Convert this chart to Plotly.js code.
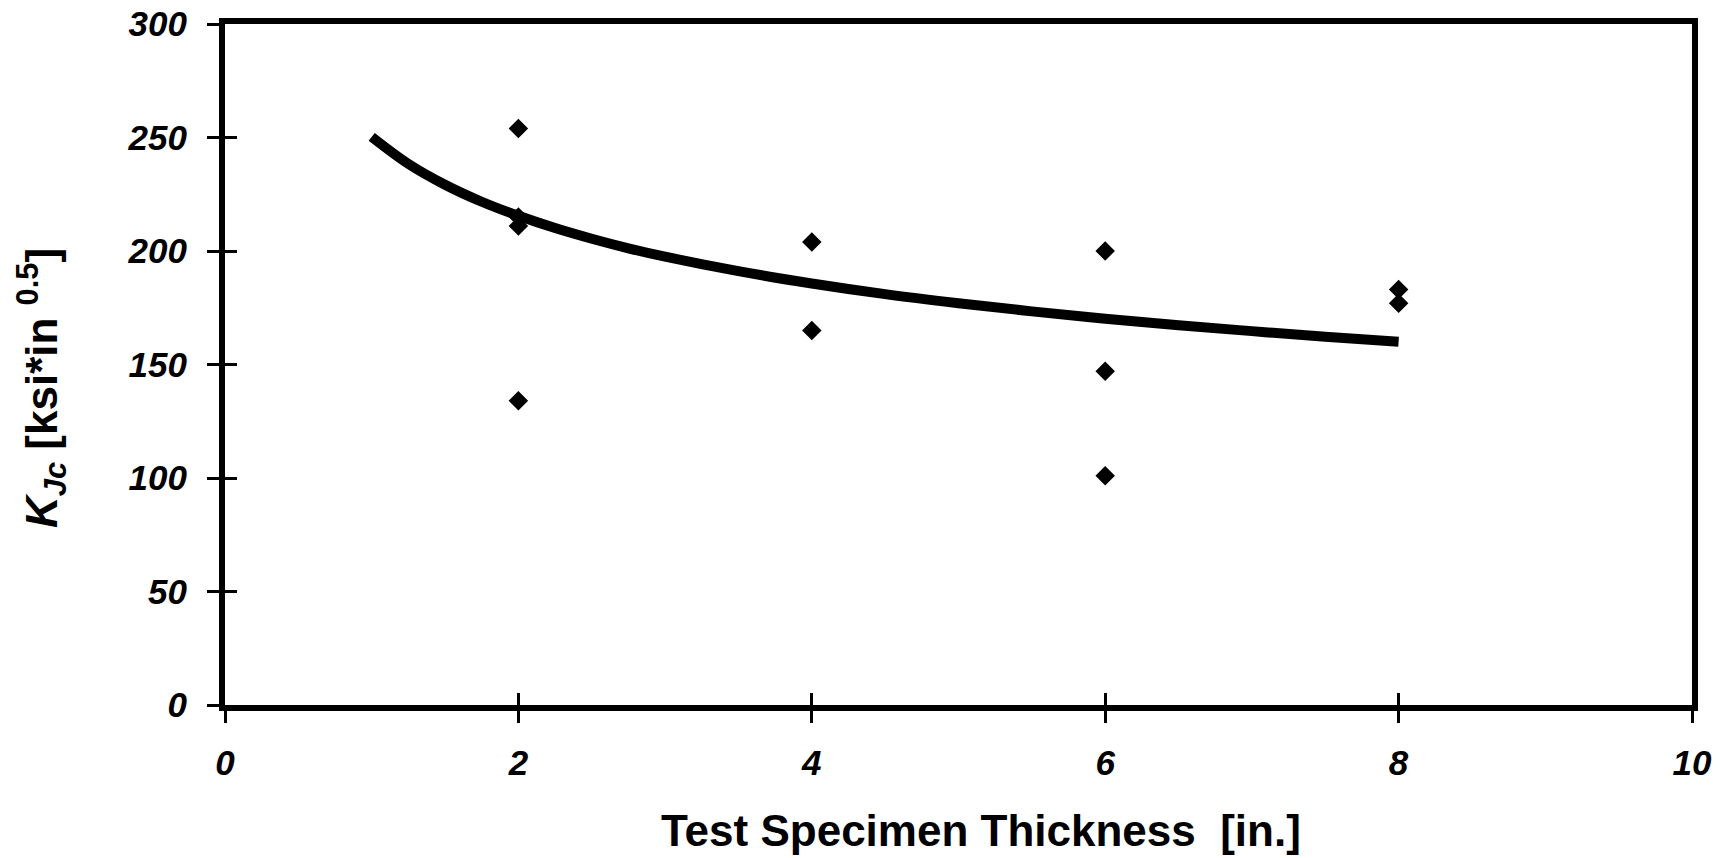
<!DOCTYPE html>
<html>
<head>
<meta charset="utf-8">
<script src="https://cdn.plot.ly/plotly-3.0.1.min.js"></script>
<style>html,body{margin:0;padding:0;background:#fff;}#chart{width:1722px;height:858px;}</style>
</head>
<body>
<div id="chart"></div>
<script>
// Measured specimens
const specimenThickness = [2, 2, 2, 2, 4, 4, 6, 6, 6, 8, 8];
const specimenKJc = [254, 215, 211, 134, 204, 165, 200, 147, 101, 183, 177];

// Fitted curve
const curveThickness = [1, 1.25, 1.5, 1.75, 2, 2.25, 2.5, 2.75, 3, 3.5, 4, 4.5, 5, 5.5, 6, 6.5, 7, 7.5, 8];
const curveKJc = [250.3, 238.4, 229.2, 221.7, 215.5, 210.1, 205.4, 201.2, 197.5, 191.1, 185.7, 181.0,
                  177.0, 173.4, 170.2, 167.3, 164.7, 162.2, 160.0];

const xTicks = [0, 2, 4, 6, 8, 10];
const yTicks = [0, 50, 100, 150, 200, 250, 300];

const tickFont = {family: 'Liberation Sans, Arial, sans-serif', size: 35, color: '#000', weight: 'bold', style: 'italic'};

const traces = [
  {x: curveThickness, y: curveKJc, type: 'scatter', mode: 'lines',
   line: {color: '#000', width: 10, shape: 'spline', smoothing: 1}, hoverinfo: 'skip', showlegend: false},
  {x: specimenThickness, y: specimenKJc, type: 'scatter', mode: 'markers',
   marker: {symbol: 'diamond', size: 15, color: '#000'}, showlegend: false},
  {x: [xTicks[0]], y: [yTicks[0]], xaxis: 'x2', yaxis: 'y2', type: 'scatter', mode: 'markers',
   marker: {opacity: 0}, hoverinfo: 'skip', showlegend: false}
];

const layout = {
  width: 1722, height: 858,
  margin: {l: 225, r: 30, t: 24, b: 153},
  paper_bgcolor: '#fff', plot_bgcolor: '#fff',
  showlegend: false,
  xaxis: {range: [0, 10], tickvals: xTicks, ticktext: xTicks.map(String),
    showgrid: false, zeroline: false, showline: true, mirror: true, linecolor: '#000', linewidth: 6,
    ticks: 'outside', ticklen: 12, tickwidth: 3, tickcolor: '#000',
    tickfont: tickFont, ticklabelstandoff: 10},
  yaxis: {range: [0, 300], tickvals: yTicks, ticktext: yTicks.map(String),
    showgrid: false, zeroline: false, showline: true, mirror: true, linecolor: '#000', linewidth: 6,
    ticks: 'outside', ticklen: 12, tickwidth: 3, tickcolor: '#000',
    tickfont: tickFont, ticklabelstandoff: 13},
  xaxis2: {range: [0, 10], tickvals: xTicks, overlaying: 'x', showticklabels: false,
    showgrid: false, zeroline: false, showline: false, ticks: 'inside', ticklen: 12, tickwidth: 3, tickcolor: '#000'},
  yaxis2: {range: [0, 300], tickvals: yTicks, overlaying: 'y', showticklabels: false,
    showgrid: false, zeroline: false, showline: false, ticks: 'inside', ticklen: 12, tickwidth: 3, tickcolor: '#000'},
  annotations: [
    {text: 'Test Specimen Thickness  [in.]', xref: 'paper', yref: 'paper', x: 0.515, y: -0.185,
     xanchor: 'center', yanchor: 'middle', showarrow: false,
     font: {family: 'Liberation Sans, Arial, sans-serif', size: 44, color: '#000', weight: 'bold'}},
    {text: '<i>K<sub>Jc</sub></i> [ksi*in <sup>0.5</sup>]', xref: 'paper', yref: 'paper', x: -0.125, y: 0.465,
     xanchor: 'center', yanchor: 'middle', textangle: -90, showarrow: false,
     font: {family: 'Liberation Sans, Arial, sans-serif', size: 44, color: '#000', weight: 'bold'}}
  ]
};

Plotly.newPlot('chart', traces, layout, {staticPlot: true});
</script>
</body>
</html>
